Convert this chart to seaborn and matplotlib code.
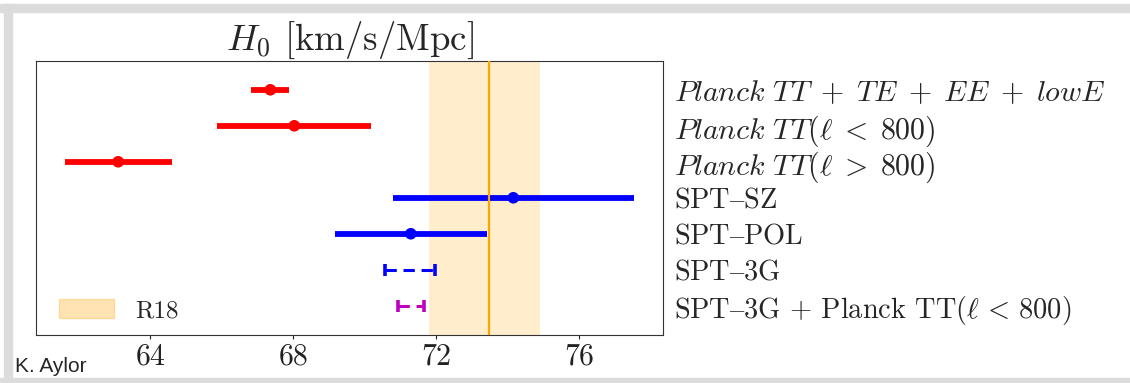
import numpy as np
import pandas as pd
import matplotlib
matplotlib.use("Agg")
import matplotlib.pyplot as plt
from matplotlib.patches import Patch, Rectangle
import seaborn as sns

# H0 constraints, one row per data set (top to bottom)
labels = [
    r"$Planck\ TT\;+\;TE\;+\;EE\;+\;lowE$",
    r"$Planck\ TT(\ell\;<\;800)$",
    r"$Planck\ TT(\ell\;>\;800)$",
    r"SPT$\mathrm{–}$SZ",
    r"SPT$\mathrm{–}$POL",
    r"SPT$\mathrm{–}$3G",
    r"SPT$\mathrm{–}$3G $+$ Planck TT($\ell\,<\,800$)",
]
h0 = [67.36, 68.03, 63.10, 74.16, 71.29, 71.27, 71.30]
h0_err = [0.53, 2.15, 1.50, 3.38, 2.12, 0.70, 0.36]
colors = ["red", "red", "red", "blue", "blue", "blue", "m"]
forecast = [False, False, False, False, False, True, True]
italic = [True, True, True, False, False, False, False]

# Local distance-ladder value (R18)
r18_h0 = 73.48
r18_lo, r18_hi = 71.80, 74.91

x_ticks = [64, 68, 72, 76]

sns.set_style("ticks")
plt.rcParams.update({
    "font.family": ["cmr10", "DejaVu Serif"],
    "mathtext.fontset": "cm",
    "mathtext.fallback": "stix",
    "axes.formatter.use_mathtext": True,
    "axes.unicode_minus": False,
})

df = pd.DataFrame({"label": labels, "h0": h0, "err": h0_err,
                   "color": colors, "forecast": forecast, "italic": italic})
df["row"] = np.arange(len(df))

W, H = 1130, 383
fig = plt.figure(figsize=(W / 100, H / 100), dpi=100)
ax = fig.add_axes([36 / W, 1 - 334.5 / H, (663 - 36) / W, (334.5 - 61) / H])

# R18 band and central value
ax.axvspan(r18_lo, r18_hi, color="orange", alpha=0.2, lw=0, zorder=0)
ax.axvline(r18_h0, color="orange", lw=1.6, zorder=4)

# measured constraints: solid bars with a point at the centre
meas = df[~df["forecast"]]
for _, r in meas.iterrows():
    ax.errorbar(r["h0"], r["row"], xerr=r["err"], fmt="none",
                ecolor=r["color"], elinewidth=4.2, capsize=0, zorder=2)
sns.scatterplot(data=meas, x="h0", y="row", hue="label",
                palette=dict(zip(meas["label"], meas["color"])),
                s=70, linewidth=0, legend=False, ax=ax, zorder=3)

# forecasts: dashed bars with caps
for _, r in df[df["forecast"]].iterrows():
    eb = ax.errorbar(r["h0"], r["row"], xerr=r["err"], fmt="none",
                     ecolor=r["color"], elinewidth=2.2, capsize=4,
                     capthick=2.6, zorder=2)
    eb[2][0].set_linestyle((0, (3.7, 2.2)))

ax.set_xlim(60.8, 78.35)
ax.set_ylim(6.8, -0.8)
ax.set_xlabel("")
ax.set_ylabel("")
ax.set_xticks(x_ticks)
ax.set_xticklabels([str(t) for t in x_ticks], fontsize=21.5)
ax.tick_params(axis="x", length=3, width=0.8, pad=3, colors="#222222")

ax.yaxis.tick_right()
ax.set_yticks(df["row"])
ax.set_yticklabels(df["label"], fontsize=20.4)
for tl, it in zip(ax.get_yticklabels(), df["italic"]):
    if it:
        tl.set_fontsize(21.5)
ax.tick_params(axis="y", length=0, pad=8)

for s in ax.spines.values():
    s.set_visible(True)
    s.set_color("#333333")
    s.set_linewidth(0.8)

ax.set_title(r"$H_0$ [km/s/Mpc]", fontsize=26.5, pad=3)

ax.legend(handles=[Patch(facecolor="orange", edgecolor="orange",
                         alpha=0.3, label="R18")],
          loc="lower left", bbox_to_anchor=(0, -0.037), frameon=False,
          fontsize=18, handlelength=2.2, handleheight=0.8,
          handletextpad=0.85)

fig.text(15 / W, 1 - 372 / H, "K. Aylor", family="Liberation Sans",
         fontsize=15, va="baseline", ha="left")

# light grey frame around the figure
grey = "#dcdcdc"
fig.patches.extend([
    Rectangle((0, 1 - 12 / H), 1, 8 / H, transform=fig.transFigure,
              color=grey, zorder=-5),
    Rectangle((4 / W, 0), 8 / W, 1 - 4 / H, transform=fig.transFigure,
              color=grey, zorder=-5),
    Rectangle((0, 0), 1, 5 / H, transform=fig.transFigure,
              color=grey, zorder=-5),
])

fig.savefig("out.png", dpi=100)
